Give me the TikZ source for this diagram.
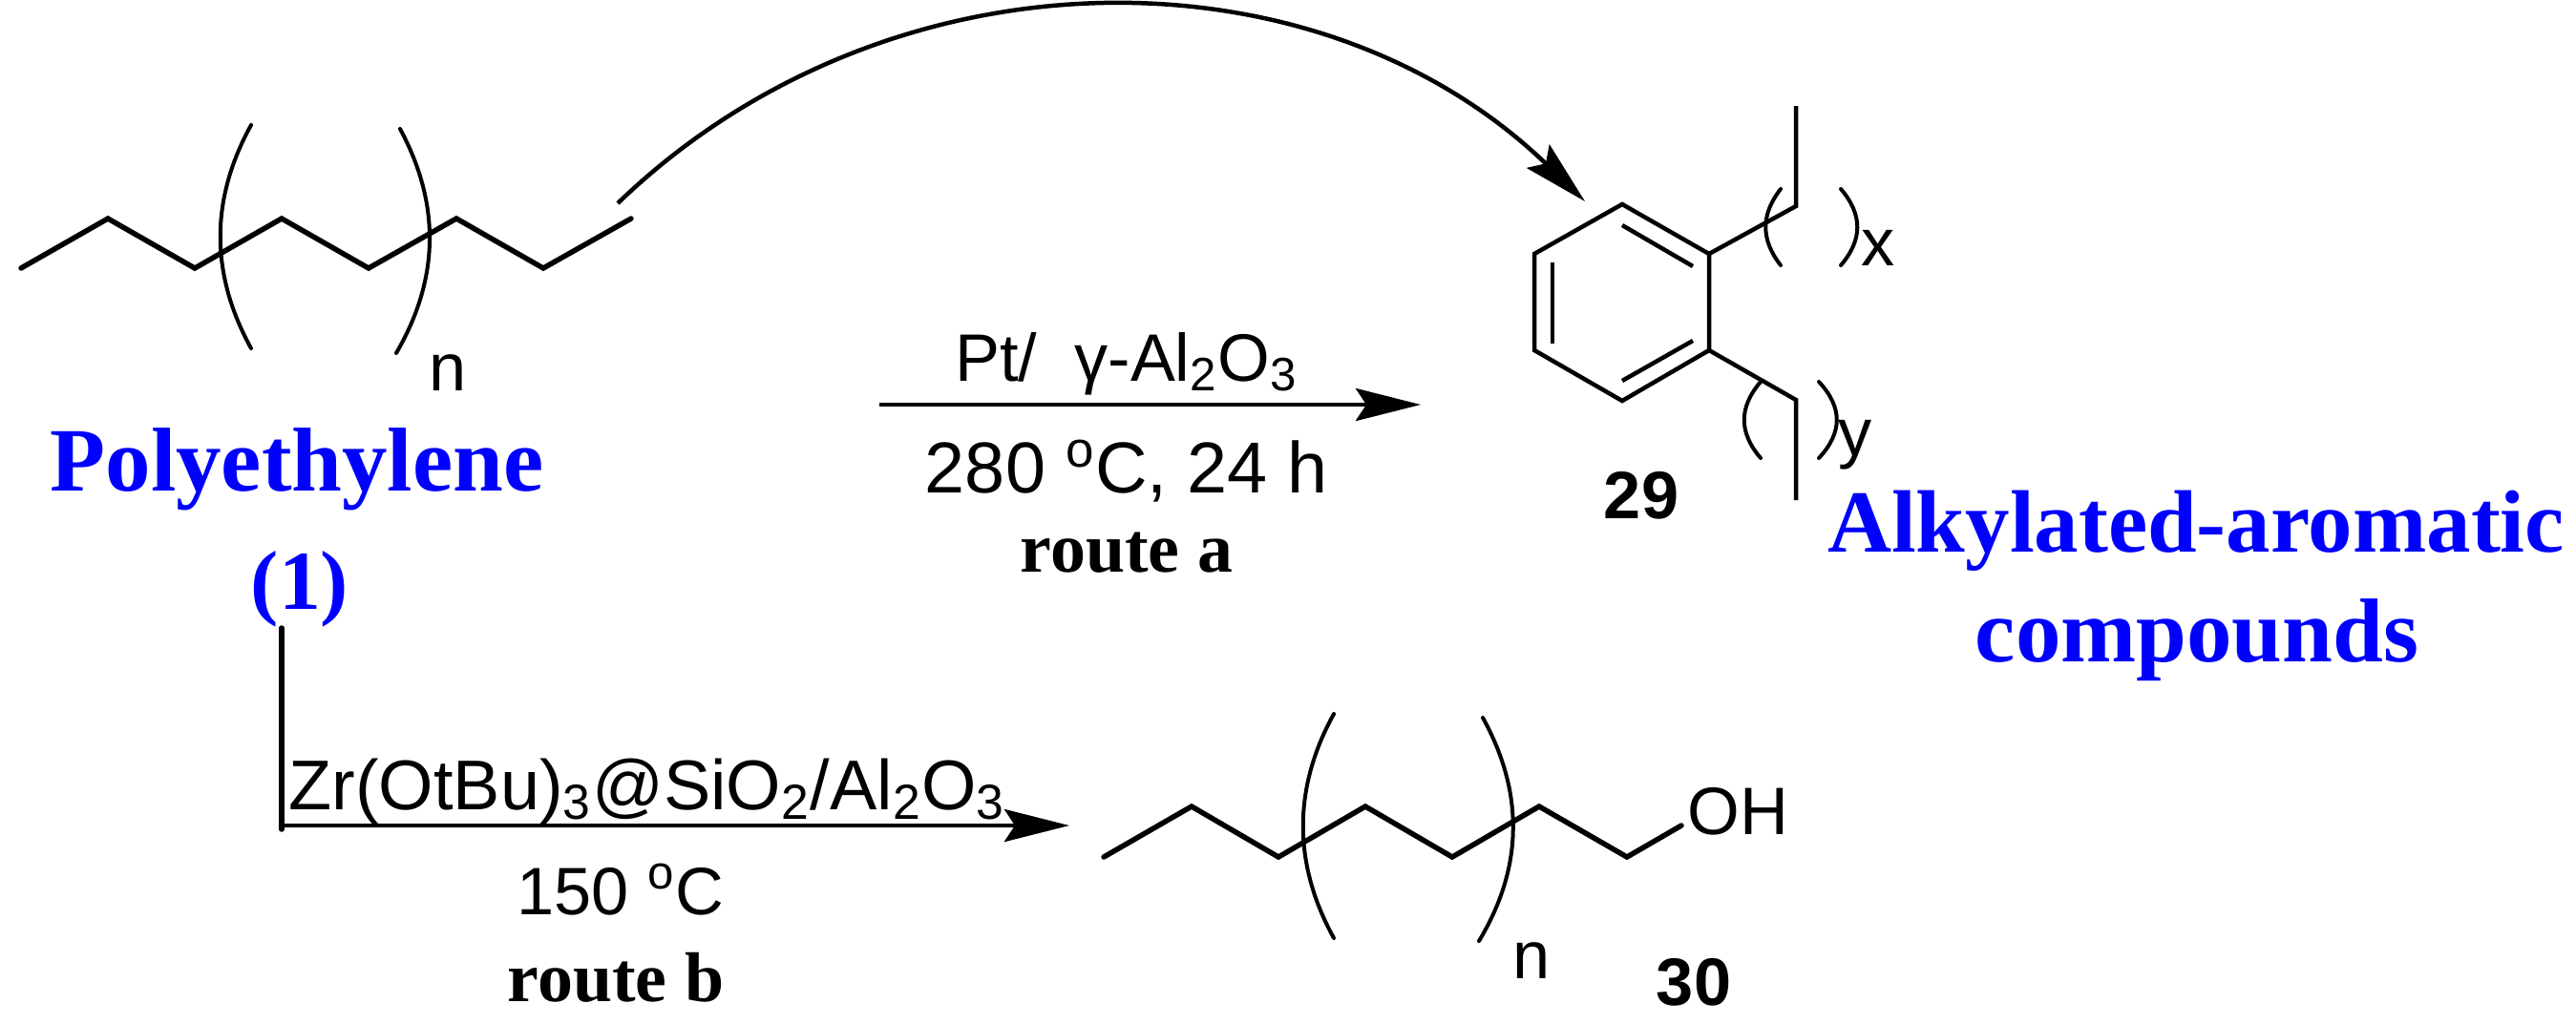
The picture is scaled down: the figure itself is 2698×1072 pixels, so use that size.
\documentclass[tikz,border=0pt]{standalone}
\usepackage{fontspec}
\setmainfont{Liberation Serif}
\setsansfont{Liberation Sans}
\usetikzlibrary{arrows.meta}
\tikzset{
	bond/.style={line width=0.055cm, line cap=round, line join=miter},
	thinbond/.style={line width=0.045cm},
	brack/.style={line width=0.04cm, line cap=round},
	rxn/.style={line width=0.045cm, -{Stealth[length=0.68cm, width=0.34cm, inset=0.11cm]}},
	chemlabel/.style={inner sep=0, anchor=base, font=\fontsize{#1}{24}\selectfont\sffamily},
	chemlabel/.default=20,
	numlabel/.style={inner sep=0, anchor=base, font=\fontsize{20}{24}\selectfont\sffamily\bfseries},
	routelabel/.style={inner sep=0, anchor=base, font=\fontsize{21}{25}\selectfont\rmfamily\bfseries},
	namelabel/.style={inner sep=0, anchor=base, text=blue, font=\fontsize{#1}{30}\selectfont\rmfamily\bfseries}
}
\begin{document}
\begin{tikzpicture}[x=0.01cm, y=-0.01cm]
		\useasboundingbox (0,0) rectangle (2698,1072);
		\coordinate (a1) at (22,281);
		\coordinate (a2) at (113,229);
		\coordinate (a3) at (204,281);
		\coordinate (a4) at (295,229);
		\coordinate (a5) at (386,281);
		\coordinate (a6) at (478,229);
		\coordinate (a7) at (569,281);
		\coordinate (a8) at (661,229);
		\draw[bond] (a1) -- (a2) -- (a3) -- (a4) -- (a5) -- (a6) -- (a7) -- (a8);
		\draw[brack] (263,131) .. controls (220,209) and (220,287) .. (263,365);
		\draw[brack] (419,135) .. controls (461,213) and (461,291) .. (415,370);
		\node[chemlabel] (n1) at (469,409) {n};
		\node[namelabel=27] (pe) at (311,514) {Polyethylene};
		\node[namelabel=25] (pe1) at (314,638) {(1)};

		\coordinate (c1) at (1699,214);
		\coordinate (c2) at (1790,266);
		\coordinate (c3) at (1790,367);
		\coordinate (c4) at (1699,420);
		\coordinate (c5) at (1607,367);
		\coordinate (c6) at (1607,266);
		\coordinate (x1) at (1881,216);
		\coordinate (x2) at (1881,111);
		\coordinate (y1) at (1881,419);
		\coordinate (y2) at (1881,524);
		\draw[thinbond] (c1) -- (c2) -- (c3) -- (c4) -- (c5) -- (c6) -- cycle;
		\draw[thinbond] (1699,236) -- (1773,279);
		\draw[thinbond] (1626,275) -- (1626,360);
		\draw[thinbond] (1699,399) -- (1773,357);
		\draw[thinbond] (c2) -- (x1) -- (x2);
		\draw[thinbond] (c3) -- (y1) -- (y2);
		\draw[brack] (1865,198) .. controls (1844,225) and (1844,251) .. (1865,278);
		\draw[brack] (1928,198) .. controls (1951,225) and (1951,251) .. (1928,278);
		\draw[brack] (1844,400) .. controls (1821,427) and (1821,453) .. (1844,480);
		\draw[brack] (1905,400) .. controls (1930,427) and (1930,453) .. (1905,480);
		\node[chemlabel] (xlab) at (1967,278) {x};
		\node[chemlabel] (ylab) at (1943,477) {y};
		\node[numlabel] (n29) at (1719,543) {29};
		\node[namelabel=26.4] (alk) at (2300,578) {Alkylated-aromatic};
		\node[namelabel=27] (comp) at (2301,693) {compounds};

		\coordinate (cstart) at (647,213);
		\coordinate (cend) at (1660,211);
		\draw[rxn] (cstart) .. controls (929,-59) and (1378,-61) .. (cend);

		\coordinate (astart) at (921,424);
		\coordinate (aend) at (1488,424);
		\draw[rxn] (astart) -- (aend);
		\node[chemlabel] (cat1) at (1180,399) {Pt/\ \ γ-Al\textsubscript{2}O\textsubscript{3}};
		\node[chemlabel=21.5] (cond1) at (1180,516) {280 \textsuperscript{o}C, 24 h};
		\node[routelabel] (routea) at (1180,599) {route a};

		\coordinate (bstart) at (295,658);
		\coordinate (bcorner) at (295,869);
		\coordinate (bleft) at (295,865);
		\coordinate (bend) at (1120,865);
		\draw[bond] (bstart) -- (bcorner);
		\draw[rxn] (bleft) -- (bend);
		\node[chemlabel=21] (cat2) at (678,848) {Zr(OtBu)\textsubscript{3}@SiO\textsubscript{2}/Al\textsubscript{2}O\textsubscript{3}};
		\node[chemlabel] (cond2) at (650,958) {150 \textsuperscript{o}C};
		\node[routelabel] (routeb) at (645,1049) {route b};

		\coordinate (d1) at (1156,898);
		\coordinate (d2) at (1248,845);
		\coordinate (d3) at (1339,898);
		\coordinate (d4) at (1430,845);
		\coordinate (d5) at (1521,898);
		\coordinate (d6) at (1612,845);
		\coordinate (d7) at (1704,898);
		\node[chemlabel] (oh) at (1820,874) {OH};
		\coordinate (d8) at (1761,865);
		\draw[bond] (d1) -- (d2) -- (d3) -- (d4) -- (d5) -- (d6) -- (d7) -- (d8);
		\draw[brack] (1397,748) .. controls (1354,826) and (1354,905) .. (1397,983);
		\draw[brack] (1553,752) .. controls (1596,830) and (1596,908) .. (1549,986);
		\node[chemlabel] (n2) at (1604,1025) {n};
		\node[numlabel] (n30) at (1774,1053) {30};
\end{tikzpicture}
\end{document}
